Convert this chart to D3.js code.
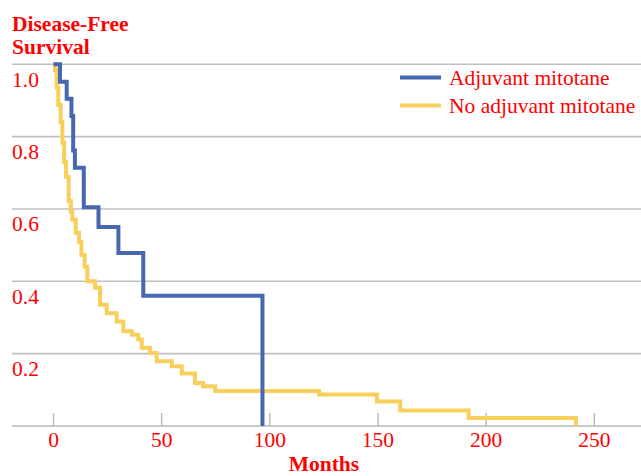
<!DOCTYPE html>
<html>
<head>
<meta charset="utf-8">
<script src="https://cdn.jsdelivr.net/npm/d3@7/dist/d3.min.js"></script>
<style>
  html, body { margin: 0; padding: 0; background: #fff; }
  svg { display: block; }
  text { font-family: "Liberation Serif", "Times New Roman", serif; fill: #ff0000; }
</style>
</head>
<body>
<svg id="chart" width="641" height="476"></svg>
<script>
// Kaplan-Meier disease-free survival, months
const seriesNames = ["Adjuvant mitotane", "No adjuvant mitotane"];
const seriesColors = ["#4767b0", "#f9cf5c"];

const mitotaneMonths = [0, 3.0, 6.1, 8.3, 9.1, 9.9, 14.0, 20.8, 30.0, 41.5, 96.6];
const mitotaneSurvival = [1.0, 0.952, 0.905, 0.857, 0.762, 0.714, 0.605, 0.55, 0.478, 0.36, 0.0];

const controlMonths = [0, 0.7, 1.5, 2.2, 3.3, 4.1, 4.9, 5.8, 7.0, 8.0, 8.7, 10.3, 11.8, 12.9, 14.4, 15.6,
  19.2, 21.5, 24.6, 29.2, 32.3, 36.2, 39.2, 40.8, 44.6, 47.7, 54.7, 59.3, 65.4, 69.1, 74.7,
  122.8, 149.5, 160.3, 191.9, 241.5];
const controlSurvival = [1.0, 0.984, 0.935, 0.888, 0.841, 0.783, 0.730, 0.689, 0.622, 0.592, 0.570, 0.534,
  0.509, 0.473, 0.440, 0.400, 0.382, 0.335, 0.312, 0.289, 0.262, 0.252, 0.239, 0.216, 0.202, 0.179,
  0.165, 0.145, 0.119, 0.110, 0.097, 0.087, 0.068, 0.043, 0.022, 0.0];

const xTicks = [0, 50, 100, 150, 200, 250];
const yTicks = [0.2, 0.4, 0.6, 0.8, 1.0];

const svg = d3.select("#chart");
const x = d3.scaleLinear().domain([0, 250]).range([53.5, 594.3]);
const y = d3.scaleLinear().domain([0, 1]).range([426, 64.3]);
const plotLeft = 12, plotRight = 641;
const fontSize = 21.5;

// horizontal gridlines
svg.append("g").selectAll("line").data(yTicks).join("line")
  .attr("x1", plotLeft).attr("x2", plotRight)
  .attr("y1", d => y(d)).attr("y2", d => y(d))
  .attr("stroke", "#c0c0c0").attr("stroke-width", 1.6);

// y tick labels sit just under each gridline
svg.append("g").selectAll("text").data(yTicks).join("text")
  .attr("x", plotLeft).attr("y", d => y(d) + 22.5)
  .attr("font-size", fontSize)
  .text(d3.format(".1f"));

// x axis line with upward tick marks
svg.append("line")
  .attr("x1", plotLeft).attr("x2", plotRight)
  .attr("y1", y(0)).attr("y2", y(0))
  .attr("stroke", "#b8b8b8").attr("stroke-width", 1.6);
svg.append("g").selectAll("line").data(xTicks).join("line")
  .attr("x1", d => x(d)).attr("x2", d => x(d))
  .attr("y1", y(0)).attr("y2", y(0) - 13)
  .attr("stroke", "#b8b8b8").attr("stroke-width", 1.4);
svg.append("g").selectAll("text").data(xTicks).join("text")
  .attr("x", d => x(d)).attr("y", 447)
  .attr("text-anchor", "middle").attr("font-size", fontSize)
  .text(d => d);

// axis titles
svg.append("text").attr("x", (x(0) + x(250)) / 2).attr("y", 471)
  .attr("text-anchor", "middle").attr("font-size", fontSize).attr("font-weight", "bold")
  .text("Months");
svg.append("text").attr("x", plotLeft).attr("y", 31)
  .attr("font-size", fontSize).attr("font-weight", "bold").text("Disease-Free");
svg.append("text").attr("x", plotLeft).attr("y", 54)
  .attr("font-size", fontSize).attr("font-weight", "bold").text("Survival");

// step curves
const step = d3.line().x(d => x(d[0])).y(d => y(d[1])).curve(d3.curveStepAfter);
const curves = [
  d3.zip(mitotaneMonths, mitotaneSurvival),
  d3.zip(controlMonths, controlSurvival)
];
// draw the comparison group first so the mitotane curve stays on top
[1, 0].forEach(i => {
  svg.append("path").datum(curves[i])
    .attr("d", step)
    .attr("fill", "none")
    .attr("stroke", seriesColors[i])
    .attr("stroke-width", 4);
});

// legend
const legend = svg.append("g").selectAll("g").data(seriesNames).join("g")
  .attr("transform", (d, i) => `translate(400, ${77.5 + i * 28})`);
legend.append("line").attr("x1", 0).attr("x2", 41).attr("y1", 0).attr("y2", 0)
  .attr("stroke", (d, i) => seriesColors[i]).attr("stroke-width", 4);
legend.append("text").attr("x", 49).attr("y", 7).attr("font-size", fontSize).text(d => d);
</script>
</body>
</html>
